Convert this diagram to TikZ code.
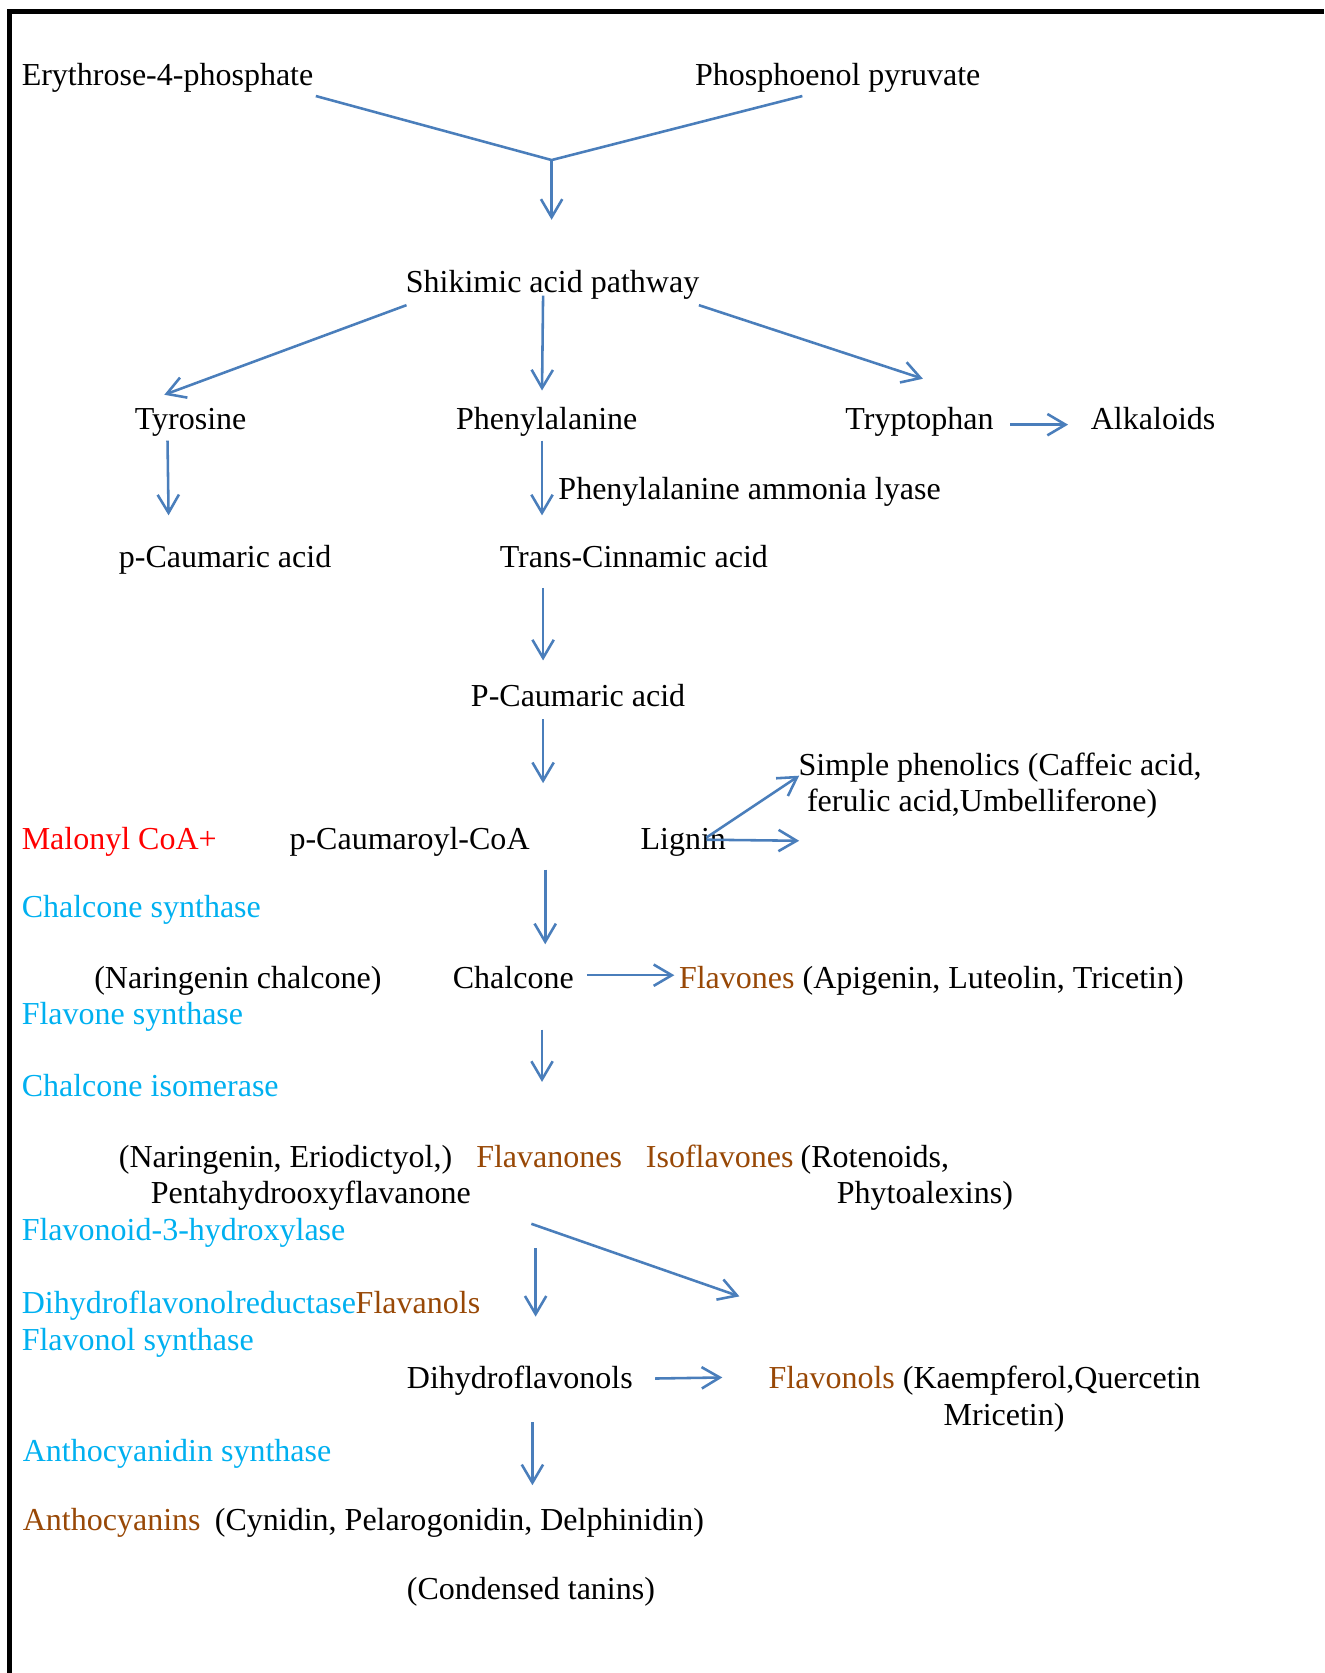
\documentclass[tikz,border=0pt]{standalone}
\usepackage{fontspec}
\setmainfont{Liberation Serif}
\usetikzlibrary{arrows.meta}
\definecolor{linkblue}{HTML}{4A7EBB}
\definecolor{enzcyan}{HTML}{00B0F0}
\definecolor{clsbrown}{HTML}{984806}
\tikzset{
  lbl/.style={anchor=base west, inner sep=0pt, font=\fontsize{15}{17}\selectfont},
  enz/.style={lbl, text=enzcyan},
  cls/.style={lbl, text=clsbrown},
  lnk/.style={draw=linkblue, line width=1.2pt},
  arr/.style={lnk, -{Straight Barb[length=8.5pt,width=10pt]}}
}
\begin{document}
\begin{tikzpicture}[x=0.5pt, y=-0.5pt]
  \useasboundingbox (0,0) rectangle (1241,1568);
  \draw[line width=2.4pt] (9,1568) -- (9,11) -- (1241,11);

  \node[lbl] (ery) at (20,80) {Erythrose-4-phosphate};
  \node[lbl] (pep) at (651,80) {Phosphoenol pyruvate};
  \node[lbl] (shik) at (380,274) {Shikimic acid pathway};
  \node[lbl] (tyr) at (126,403) {Tyrosine};
  \node[lbl] (phe) at (427,403) {Phenylalanine};
  \node[lbl] (trp) at (792,403) {Tryptophan};
  \node[lbl] (alk) at (1022,403) {Alkaloids};
  \node[lbl] (pal) at (523,468) {Phenylalanine ammonia lyase};
  \node[lbl] (pcau) at (111,532) {p-Caumaric acid};
  \node[lbl] (tcin) at (468,532) {Trans-Cinnamic acid};
  \node[lbl] (Pcau) at (441,662) {P-Caumaric acid};
  \node[lbl] (simp) at (748,727) {Simple phenolics (Caffeic acid,};
  \node[lbl] (feru) at (756,761) {ferulic acid,Umbelliferone)};
  \node[lbl, text=red] (malo) at (20,796) {Malonyl CoA+};
  \node[lbl] (pcoa) at (271,796) {p-Caumaroyl-CoA};
  \node[lbl] (lig) at (600,796) {Lignin};
  \node[enz] (chs) at (20,860) {Chalcone synthase};
  \node[lbl] (narch) at (88,926) {(Naringenin chalcone)};
  \node[lbl] (chal) at (424,926) {Chalcone};
  \node[lbl] (flvs) at (636,926) {\textcolor{clsbrown}{Flavones} (Apigenin, Luteolin, Tricetin)};
  \node[enz] (fns) at (20,960) {Flavone synthase};
  \node[enz] (chi) at (20,1028) {Chalcone isomerase};
  \node[lbl] (nare) at (111,1094) {(Naringenin, Eriodictyol,)};
  \node[cls] (fnon) at (446,1094) {Flavanones};
  \node[cls] (iso) at (605,1094) {Isoflavones};
  \node[lbl] (rot) at (750,1094) {(Rotenoids,};
  \node[lbl] (penta) at (141,1128) {Pentahydrooxyflavanone};
  \node[lbl] (phyt) at (784,1128) {Phytoalexins)};
  \node[enz] (f3h) at (20,1163) {Flavonoid-3-hydroxylase};
  \node[enz] (dfr) at (20,1231) {Dihydroflavonolreductase};
  \node[cls] (fnol) at (333,1231) {Flavanols};
  \node[enz] (fls) at (20,1266) {Flavonol synthase};
  \node[lbl] (dhf) at (381,1301) {Dihydroflavonols};
  \node[lbl] (flo) at (720,1301) {\textcolor{clsbrown}{Flavonols} (Kaempferol,Quercetin};
  \node[lbl] (mric) at (884,1336) {Mricetin)};
  \node[enz] (ans) at (21,1370) {Anthocyanidin synthase};
  \node[cls] (anth) at (21,1434) {Anthocyanins};
  \node[lbl] (cyn) at (201,1434) {(Cynidin, Pelarogonidin, Delphinidin)};
  \node[lbl] (tan) at (381,1499) {(Condensed tanins)};

  \coordinate (e1) at (296,90);
  \coordinate (p1) at (752,90);
  \coordinate (j1) at (517,150);
  \coordinate (s1) at (517,206);
  \coordinate (sh1) at (381,286);
  \coordinate (ty1) at (154,370);
  \coordinate (sh2) at (509,277);
  \coordinate (ph1) at (508,366);
  \coordinate (sh3) at (655,286);
  \coordinate (tr1) at (865,355);
  \coordinate (tr2) at (947,398);
  \coordinate (al1) at (1001,398);
  \coordinate (ty2) at (157,413);
  \coordinate (pc1) at (158,483);
  \coordinate (ph2) at (508,413);
  \coordinate (tc1) at (508,483);
  \coordinate (tc2) at (509,551);
  \coordinate (pca1) at (509,619);
  \coordinate (pca2) at (509,674);
  \coordinate (coa1) at (509,734);
  \coordinate (lig1) at (662,785);
  \coordinate (sp1) at (749,727);
  \coordinate (lig2) at (662,787);
  \coordinate (lig3) at (749,788);
  \coordinate (coa2) at (511,815);
  \coordinate (ch1) at (511,885);
  \coordinate (ch2) at (550,914);
  \coordinate (fl1) at (632,914);
  \coordinate (ch3) at (508,965);
  \coordinate (fv1) at (508,1014);
  \coordinate (fv2) at (498,1147);
  \coordinate (fv3) at (693,1215);
  \coordinate (fv4) at (502,1170);
  \coordinate (dh1) at (502,1234);
  \coordinate (dh2) at (614,1292);
  \coordinate (fo1) at (677,1291);
  \coordinate (dh3) at (499,1333);
  \coordinate (an1) at (499,1392);

  \draw[lnk] (e1) -- (j1) -- (p1);
  \draw[arr] (j1) -- (s1);
  \draw[arr] (sh1) -- (ty1);
  \draw[arr] (sh2) -- (ph1);
  \draw[arr] (sh3) -- (tr1);
  \draw[arr] (tr2) -- (al1);
  \draw[arr] (ty2) -- (pc1);
  \draw[arr] (ph2) -- (tc1);
  \draw[arr] (tc2) -- (pca1);
  \draw[arr] (pca2) -- (coa1);
  \draw[arr] (lig1) -- (sp1);
  \draw[arr] (lig2) -- (lig3);
  \draw[arr] (coa2) -- (ch1);
  \draw[arr] (ch2) -- (fl1);
  \draw[arr] (ch3) -- (fv1);
  \draw[arr] (fv2) -- (fv3);
  \draw[arr] (fv4) -- (dh1);
  \draw[arr] (dh2) -- (fo1);
  \draw[arr] (dh3) -- (an1);
\end{tikzpicture}
\end{document}
